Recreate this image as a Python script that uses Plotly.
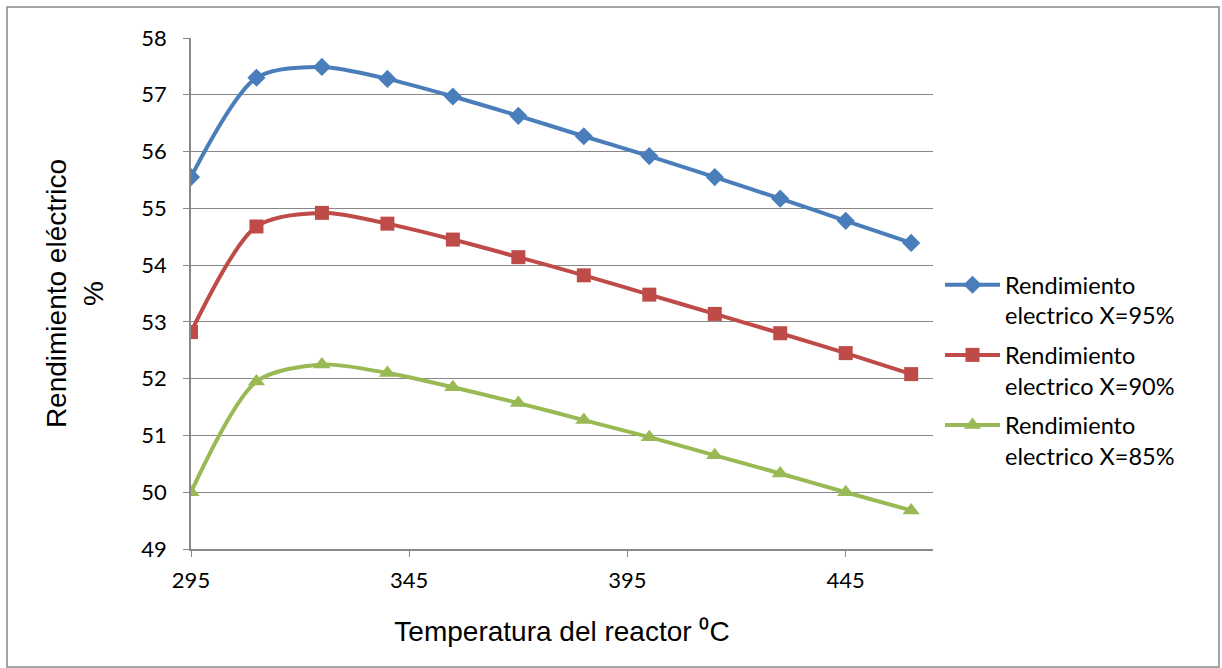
import plotly.graph_objects as go

temps = [295, 310, 325, 340, 355, 370, 385, 400, 415, 430, 445, 460]
x95 = [55.55, 57.30, 57.49, 57.28, 56.97, 56.63, 56.27, 55.92, 55.55, 55.17, 54.78, 54.39]
x90 = [52.82, 54.68, 54.92, 54.73, 54.45, 54.14, 53.82, 53.48, 53.14, 52.80, 52.45, 52.08]
x85 = [50.00, 51.95, 52.25, 52.10, 51.85, 51.57, 51.27, 50.97, 50.65, 50.33, 50.00, 49.68]
names = ["Rendimiento<br>electrico X=95%", "Rendimiento<br>electrico X=90%", "Rendimiento<br>electrico X=85%"]
colors = ["#4A7EBB", "#BE4B48", "#98B954"]
symbols = ["diamond", "square", "triangle-up"]
sizes = [14, 14, 15]
xticks = [295, 345, 395, 445]
yticks = [49, 50, 51, 52, 53, 54, 55, 56, 57, 58]

fig = go.Figure()
for i, (ys, n, c, s, sz) in enumerate(zip([x95, x90, x85], names, colors, symbols, sizes)):
    fig.add_trace(go.Scatter(x=temps, y=ys, name=n, mode="lines+markers", legendgroup=f"g{i}",
                             line=dict(color=c, width=4, shape="spline", smoothing=0.8),
                             marker=dict(symbol=s, size=sz, color=c)))

L, R, T, B = 191, 289, 38, 119
W, H = 1222, 668
pw, ph = W - L - R, H - T - B

fig.update_layout(
    width=W, height=H,
    margin=dict(l=L, r=R, t=T, b=B),
    paper_bgcolor="white", plot_bgcolor="white",
    font=dict(family="Lato, Open Sans, sans-serif", color="black"),
    showlegend=True,
    legend=dict(x=(940 - L) / pw, y=(549 - 263) / ph, xanchor="left", yanchor="top",
                font=dict(size=23.5, family="Lato, Open Sans, sans-serif"), valign="top",
                tracegroupgap=6, itemwidth=55, bgcolor="rgba(0,0,0,0)"),
    xaxis=dict(range=[295, 465], tickvals=xticks, ticks="outside", ticklen=6,
               tickcolor="#888888", showgrid=False, showline=True, linecolor="#888888",
               linewidth=1.5, zeroline=False, tickfont=dict(size=22), ticklabelstandoff=5,
               title=dict(text="Temperatura del reactor ⁰C",
                          font=dict(size=28, family="Liberation Sans, Arial"), standoff=29)),
    yaxis=dict(range=[49, 58], tickvals=yticks, ticks="outside", ticklen=6,
               tickcolor="#888888", showgrid=True, gridcolor="#888888", gridwidth=1,
               showline=True, linecolor="#888888", linewidth=1.5, zeroline=False,
               tickfont=dict(size=22), ticklabelstandoff=12,
               title=dict(text="Rendimiento eléctrico<br>%",
                          font=dict(size=28, family="Liberation Sans, Arial"), standoff=30)),
    shapes=[dict(type="rect", xref="paper", yref="paper",
                 x0=(7 - L) / pw, x1=(1219 - L) / pw,
                 y0=(549 - 667) / ph, y1=(549 - 7) / ph,
                 line=dict(color="#888888", width=1.5), fillcolor="rgba(0,0,0,0)", layer="below")],
)

fig.write_html("out.html")
